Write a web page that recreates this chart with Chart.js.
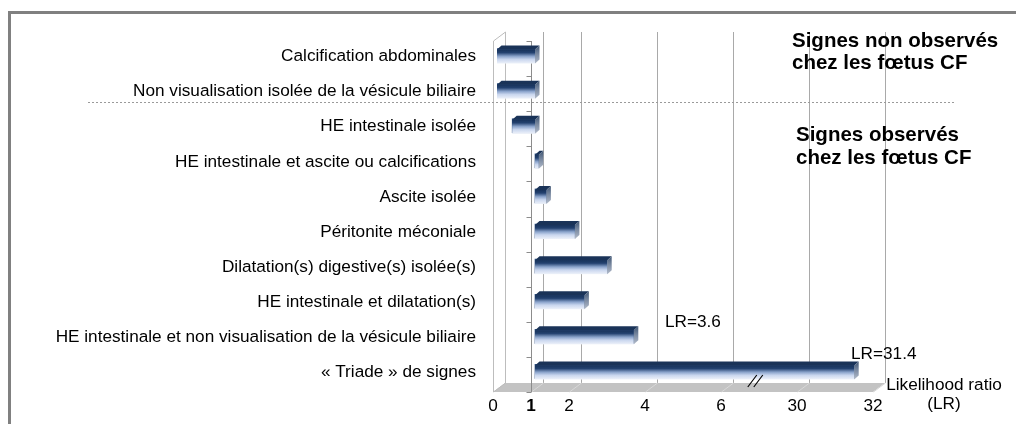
<!DOCTYPE html>
<html>
<head>
<meta charset="utf-8">
<script src="https://cdn.jsdelivr.net/npm/chart.js@4"></script>
<style>
  body { margin: 0; background: #fff; }
  canvas { display: block; }
</style>
</head>
<body>
<canvas id="lrChart" width="1016" height="424"></canvas>
<script>
const categories = [
  'Calcification abdominales',
  'Non visualisation isolée de la vésicule biliaire',
  'HE intestinale isolée',
  'HE intestinale et ascite ou calcifications',
  'Ascite isolée',
  'Péritonite méconiale',
  'Dilatation(s) digestive(s) isolée(s)',
  'HE intestinale et dilatation(s)',
  'HE intestinale et non visualisation de la vésicule biliaire',
  '« Triade » de signes'
];
const lrValues = [0, 0, 0.4, 1.1, 1.3, 2.05, 2.9, 2.3, 3.6, 31.4];
const tickValues = [0, 1, 2, 4, 6, 30, 32];
const labelledBars = [8, 9];

// broken axis: everything between 6 and 30 is squeezed into 2 units
const BREAK_FROM = 6, BREAK_TO = 30, BREAK_GAP = 2;
const toAxis = v => v > BREAK_FROM ? v - (BREAK_TO - BREAK_FROM) + BREAK_GAP : v;
const fromAxis = d => d > BREAK_FROM ? d + (BREAK_TO - BREAK_FROM) - BREAK_GAP : d;

const FONT = "'Liberation Sans', Arial, sans-serif";
const FRONT = { dx: -4, dy: 3 };   // front edge of the floor / walls
const BACK = { dx: 8, dy: -6 };    // back wall
const DEPTH = { dx: 4.5, dy: -4 }; // bar top and side faces

function line(ctx, x1, y1, x2, y2) {
  ctx.beginPath();
  ctx.moveTo(x1, y1);
  ctx.lineTo(x2, y2);
  ctx.stroke();
}

const box3d = {
  id: 'box3d',
  beforeDatasetsDraw(chart) {
    const { ctx, chartArea: a, scales: { x } } = chart;
    ctx.save();
    // floor
    ctx.fillStyle = '#c3c3c3';
    ctx.beginPath();
    ctx.moveTo(a.left + BACK.dx, a.bottom + BACK.dy);
    ctx.lineTo(a.right + BACK.dx, a.bottom + BACK.dy);
    ctx.lineTo(a.right + FRONT.dx, a.bottom + FRONT.dy);
    ctx.lineTo(a.left + FRONT.dx, a.bottom + FRONT.dy);
    ctx.closePath();
    ctx.fill();

    ctx.lineWidth = 1;
    x.ticks.forEach(t => {
      const px = Math.round(x.getPixelForValue(t.value));
      if (t.value === 0) return;
      ctx.strokeStyle = '#a9a9a9';
      line(ctx, px + BACK.dx + 0.5, a.top + BACK.dy, px + BACK.dx + 0.5, a.bottom + BACK.dy);
      ctx.strokeStyle = '#d8d8d8';
      line(ctx, px + BACK.dx + 0.5, a.bottom + BACK.dy, px + FRONT.dx + 0.5, a.bottom + FRONT.dy);
    });

    // left wall
    const l = Math.round(a.left) + 0.5;
    ctx.strokeStyle = '#bdbdbd';
    line(ctx, l + FRONT.dx, a.top + FRONT.dy, l + FRONT.dx, a.bottom + FRONT.dy);
    line(ctx, l + BACK.dx, a.top + BACK.dy, l + BACK.dx, a.bottom + BACK.dy);
    line(ctx, l + FRONT.dx, a.top + FRONT.dy, l + BACK.dx, a.top + BACK.dy);
    line(ctx, l + FRONT.dx, a.bottom + FRONT.dy, l + BACK.dx, a.bottom + BACK.dy);

    // category axis at LR = 1
    const ax = Math.round(x.getPixelForValue(1)) + FRONT.dx + 0.5;
    ctx.strokeStyle = '#8c8c8c';
    line(ctx, ax, a.top + FRONT.dy, ax, a.bottom + FRONT.dy);
    const n = categories.length;
    for (let i = 0; i <= n; i++) {
      const yy = Math.round(a.top + i * a.height / n + FRONT.dy) + 0.5;
      line(ctx, ax - 5, yy, ax, yy);
    }
    ctx.restore();
  },
  afterDatasetsDraw(chart) {
    const { ctx, chartArea: a, scales: { x } } = chart;
    ctx.save();
    chart.getDatasetMeta(0).data.forEach(bar => {
      const p = bar.getProps(['x', 'y', 'base', 'height'], true);
      const left = Math.min(p.x, p.base), right = Math.max(p.x, p.base);
      const top = p.y - p.height / 2 + 1, bottom = p.y + p.height / 2 + 1;

      const g = ctx.createLinearGradient(0, top, 0, bottom);
      g.addColorStop(0, '#17325a');
      g.addColorStop(0.22, '#23416f');
      g.addColorStop(0.48, '#8aa3cb');
      g.addColorStop(0.7, '#c9d6ee');
      g.addColorStop(1, '#eef2fa');
      ctx.fillStyle = g;
      ctx.fillRect(left, top, right - left, p.height);

      ctx.fillStyle = '#1a3358';
      ctx.beginPath();
      ctx.moveTo(left, top);
      ctx.lineTo(left + DEPTH.dx, top + DEPTH.dy);
      ctx.lineTo(right + DEPTH.dx, top + DEPTH.dy);
      ctx.lineTo(right, top);
      ctx.closePath();
      ctx.fill();

      const s = ctx.createLinearGradient(0, top + DEPTH.dy, 0, bottom);
      s.addColorStop(0, '#3f5573');
      s.addColorStop(0.5, '#7d8ca3');
      s.addColorStop(1, '#b3bccb');
      ctx.fillStyle = s;
      ctx.beginPath();
      ctx.moveTo(right, top);
      ctx.lineTo(right + DEPTH.dx, top + DEPTH.dy);
      ctx.lineTo(right + DEPTH.dx, bottom + DEPTH.dy);
      ctx.lineTo(right, bottom);
      ctx.closePath();
      ctx.fill();
    });

    // axis break marks
    const bx = x.getPixelForValue(6.6);
    ctx.strokeStyle = '#000';
    ctx.lineWidth = 1.2;
    [0, 6].forEach(o => line(ctx, bx + o, a.bottom - 2, bx + o + 9, a.bottom - 14));
    ctx.restore();
  },
  afterDraw(chart) {
    const { ctx, scales: { y } } = chart;
    ctx.save();
    // outer frame
    ctx.strokeStyle = '#808080';
    ctx.lineWidth = 3;
    ctx.strokeRect(9.5, 12.5, 1200, 600);

    // separator between the two groups of signs
    const sepY = Math.round((y.getPixelForValue(1) + y.getPixelForValue(2)) / 2 + BACK.dy) + 0.5;
    ctx.strokeStyle = '#9a9a9a';
    ctx.lineWidth = 1;
    ctx.setLineDash([2, 2]);
    line(ctx, 88, sepY, 956, sepY);
    ctx.setLineDash([]);

    ctx.fillStyle = '#000';
    ctx.textBaseline = 'alphabetic';
    ctx.textAlign = 'left';
    ctx.font = 'bold 20.5px ' + FONT;
    ctx.fillText('Signes non observés', 792, 47);
    ctx.fillText('chez les fœtus CF', 792, 69);
    ctx.fillText('Signes observés', 796, 141);
    ctx.fillText('chez les fœtus CF', 796, 164);

    ctx.font = '17.2px ' + FONT;
    const lrPos = { 8: [665, 327], 9: [851, 359] };
    labelledBars.forEach(i => {
      ctx.fillText('LR=' + lrValues[i], lrPos[i][0], lrPos[i][1]);
    });

    ctx.textAlign = 'center';
    ctx.fillText('Likelihood ratio', 944, 390);
    ctx.fillText('(LR)', 944, 409);
    ctx.restore();
  }
};

new Chart(document.getElementById('lrChart'), {
  type: 'bar',
  data: {
    labels: categories,
    datasets: [{
      data: lrValues.map(v => [1, toAxis(v)]),
      backgroundColor: '#2e4f80',
      borderWidth: 0,
      barThickness: 14
    }]
  },
  options: {
    indexAxis: 'y',
    responsive: false,
    animation: false,
    layout: { padding: { top: 38, right: 139, bottom: 0, left: 0 } },
    plugins: {
      legend: { display: false },
      tooltip: { enabled: false }
    },
    scales: {
      x: {
        type: 'linear',
        min: 0,
        max: toAxis(32),
        afterBuildTicks: s => { s.ticks = tickValues.map(v => ({ value: toAxis(v) })); },
        afterFit: s => { s.height = 35; },
        grid: { display: false, drawTicks: false },
        border: { display: false },
        ticks: {
          autoSkip: false,
          maxRotation: 0,
          padding: 7,
          labelOffset: -4,
          color: '#000',
          font: ctx => ({ family: FONT, size: 17.2, weight: ctx.tick && ctx.tick.value === 1 ? 'bold' : 'normal' }),
          callback: v => String(fromAxis(v))
        }
      },
      y: {
        afterFit: s => { s.width = 497; },
        grid: { display: false, drawTicks: false },
        border: { display: false },
        ticks: {
          padding: 21,
          labelOffset: 1,
          color: '#000',
          font: { family: FONT, size: 17.2 }
        }
      }
    }
  },
  plugins: [box3d]
});
</script>
</body>
</html>
